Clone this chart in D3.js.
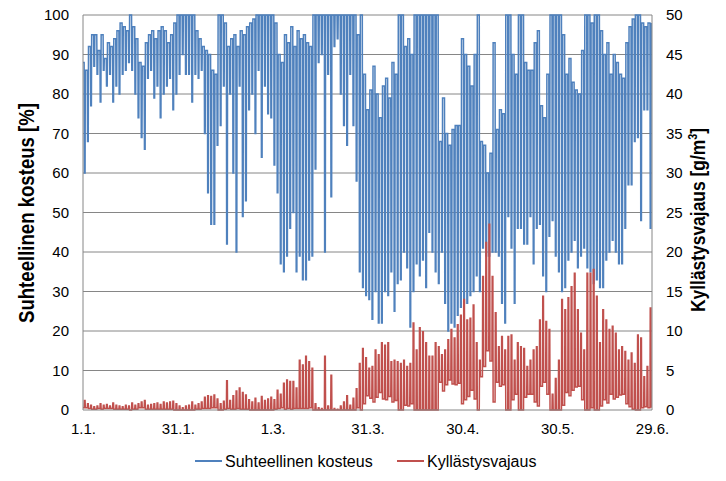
<!DOCTYPE html>
<html>
<head>
<meta charset="utf-8">
<script src="https://cdn.jsdelivr.net/npm/d3@7"></script>
<style>
  body { margin: 0; background: #fff; }
  svg text { font-family: "Liberation Sans", Arial, sans-serif; fill: #000; }
</style>
</head>
<body>
<svg id="chart" width="726" height="481"></svg>
<script>
// daily top (night) and bottom (afternoon) relative humidity, % ; day 0 = 1.1.
let rhTop = [
  88, 86, 92, 95, 95, 91, 95, 89, 93, 92,
  94, 96, 98, 97, 96, 100, 97, 94, 88, 87,
  93, 95, 96, 94, 96, 97, 96, 93, 95, 98,
  100, 100, 100, 100, 100, 100, 96, 94, 92, 91,
  90, 86, 85, 100, 100, 98, 92, 94, 95, 92,
  96, 95, 97, 98, 99, 100, 100, 100, 100, 100,
  100, 98, 90, 88, 95, 93, 97, 92, 96, 94,
  95, 93, 92, 100, 100, 100, 100, 100, 100, 100,
  100, 100, 100, 100, 100, 100, 100, 95, 100, 85,
  76, 81, 87, 80, 74, 82, 84, 79, 88, 85,
  100, 100, 92, 94, 90, 100, 100, 100, 100, 100,
  100, 100, 100, 68, 79, 70, 67, 71, 72, 72,
  94, 90, 87, 82, 90, 100, 68, 67, 60, 65,
  93, 71, 76, 75, 100, 100, 90, 85, 100, 100,
  88, 86, 86, 93, 96, 77, 74, 85, 100, 100,
  100, 100, 95, 85, 89, 83, 81, 80, 91, 100,
  100, 98, 100, 100, 96, 90, 93, 85, 90, 88,
  85, 84, 93, 97, 99, 100, 100, 98, 97, 98
];
let rhLow = [
  60, 68, 77, 87, 85, 78, 86, 82, 85, 78,
  82, 80, 85, 86, 88, 86, 80, 74, 69, 66,
  84, 86, 79, 82, 74, 80, 82, 84, 76, 80,
  85, 90, 85, 85, 78, 85, 84, 86, 70, 55,
  47, 47, 67, 72, 82, 42, 80, 60, 40, 82,
  49, 53, 76, 80, 70, 86, 64, 82, 75, 74,
  62, 55, 37, 35, 39, 46, 50, 35, 39, 33,
  33, 38, 39, 61, 88, 90, 40, 85, 54, 92,
  94, 80, 72, 67, 85, 72, 58, 35, 31, 29,
  28, 23, 30, 22, 22, 30, 29, 35, 25, 32,
  33, 40, 36, 21, 30, 37, 34, 38, 31, 45,
  40, 35, 32, 40, 27, 20, 22, 21, 24, 26,
  27, 27, 29, 30, 34, 30, 41, 39, 39, 40,
  40, 39, 27, 22, 49, 41, 27, 46, 46, 42,
  42, 49, 37, 46, 47, 34, 30, 44, 48, 39,
  35, 30, 31, 38, 40, 43, 36, 39, 41, 36,
  35, 32, 33, 31, 31, 38, 40, 43, 40, 37,
  37, 46, 57, 57, 68, 69, 48, 76, 76, 46
];
// daily peak and night level of saturation deficit, g/m3
let defPeak = [
  1.2, 0.8, 0.6, 0.4, 0.5, 0.8, 0.6, 0.7, 0.5, 0.9,
  0.6, 0.5, 0.4, 0.6, 0.5, 0.9, 0.6, 0.8, 1.0, 1.2,
  0.6, 0.7, 0.8, 0.9, 0.7, 1.0, 0.9, 1.0, 1.1, 0.8,
  0.5, 0.3, 0.5, 0.6, 1.0, 0.6, 0.8, 1.0, 1.6, 1.8,
  1.7, 1.9, 1.4, 0.8, 1.1, 3.7, 1.2, 1.8, 2.4, 2.8,
  2.2, 1.9, 1.3, 1.0, 1.5, 0.9, 1.7, 1.2, 1.4, 1.6,
  1.3, 2.5, 2.0, 3.4, 3.8, 3.6, 3.6, 2.8, 6.3, 5.7,
  6.8, 6.1, 5.3, 0.8, 0.3, 0.2, 6.8, 0.5, 4.4, 0.2,
  0.1, 0.5, 1.0, 1.8, 0.6, 1.5, 2.7, 5.9, 7.8, 6.6,
  5.3, 5.5, 7.6, 7.0, 8.5, 8.2, 8.5, 6.1, 6.3, 6.1,
  5.9, 6.3, 5.5, 5.9, 11.0, 7.6, 10.4, 9.9, 8.5, 6.8,
  6.8, 8.5, 8.0, 7.0, 7.6, 8.9, 10.2, 9.1, 10.8, 12.0,
  14.0, 11.4, 11.6, 13.3, 8.5, 6.3, 16.9, 21.2, 23.5, 16.9,
  12.3, 8.0, 9.3, 7.6, 9.3, 9.5, 6.3, 8.5, 8.0, 7.8,
  5.5, 6.3, 7.6, 8.0, 11.4, 14.4, 11.2, 10.2, 2.0, 4.0,
  6.3, 14.0, 12.7, 14.2, 15.6, 17.3, 12.7, 9.7, 7.6, 17.3,
  17.3, 17.8, 14.4, 8.5, 12.7, 11.4, 10.2, 10.6, 9.7, 7.6,
  8.0, 7.4, 6.3, 7.2, 5.9, 9.5, 9.1, 4.2, 5.5, 12.9
];
let defNight = [
  0.3, 0.3, 0.2, 0.1, 0.1, 0.2, 0.1, 0.2, 0.2, 0.2,
  0.1, 0.1, 0.1, 0.1, 0.1, 0.0, 0.1, 0.1, 0.3, 0.3,
  0.1, 0.1, 0.1, 0.1, 0.1, 0.1, 0.1, 0.1, 0.1, 0.0,
  0.0, 0.0, 0.0, 0.0, 0.0, 0.0, 0.1, 0.1, 0.2, 0.2,
  0.2, 0.3, 0.3, 0.0, 0.0, 0.1, 0.2, 0.1, 0.1, 0.2,
  0.1, 0.1, 0.1, 0.0, 0.0, 0.0, 0.0, 0.0, 0.0, 0.0,
  0.0, 0.1, 0.2, 0.3, 0.1, 0.2, 0.1, 0.2, 0.2, 0.2,
  0.2, 0.2, 0.3, 0.0, 0.0, 0.0, 0.0, 0.0, 0.0, 0.0,
  0.0, 0.0, 0.0, 0.0, 0.0, 0.0, 0.0, 0.3, 0.0, 0.8,
  1.8, 1.5, 1.0, 1.6, 2.2, 1.4, 1.3, 1.7, 1.0, 1.2,
  0.0, 0.0, 0.6, 0.5, 0.8, 0.0, 0.0, 0.0, 0.0, 0.0,
  0.0, 0.0, 0.0, 3.5, 2.4, 3.2, 3.8, 3.3, 3.2, 3.4,
  0.8, 1.3, 1.7, 2.5, 1.4, 0.0, 4.2, 5.5, 7.5, 6.2,
  1.0, 3.5, 3.0, 3.2, 0.0, 0.0, 1.3, 2.0, 0.0, 0.0,
  1.6, 2.0, 2.0, 1.0, 0.5, 3.0, 3.5, 2.0, 0.0, 0.0,
  0.0, 0.0, 0.6, 2.2, 1.8, 2.5, 2.9, 3.0, 1.3, 0.0,
  0.0, 0.3, 0.0, 0.0, 0.5, 1.3, 0.9, 2.0, 1.4, 1.6,
  1.9, 2.0, 0.8, 0.4, 0.1, 0.0, 0.0, 0.3, 0.4, 0.3
];
let dayTicks = [0, 30, 60, 90, 120, 150, 180];
let dayLabels = ["1.1.", "31.1.", "1.3.", "31.3.", "30.4.", "30.5.", "29.6."];
let seriesNames = ["Suhteellinen kosteus", "Kyllästysvajaus"];
let seriesColors = ["#4F81BD", "#C0504D"];

let svg = d3.select("#chart");
let plotL = 83, plotR = 652, plotT = 15, plotB = 410;

let x = d3.scaleLinear().domain([0, 180]).range([plotL, plotR]);
let yL = d3.scaleLinear().domain([0, 100]).range([plotB, plotT]);
let yR = d3.scaleLinear().domain([0, 50]).range([plotB, plotT]);

// gridlines
svg.append("g")
  .selectAll("line")
  .data(d3.range(10, 101, 10))
  .join("line")
  .attr("x1", plotL).attr("x2", plotR)
  .attr("y1", d => yL(d)).attr("y2", d => yL(d))
  .attr("stroke", "#868686").attr("stroke-width", 1);

// each day: night plateau, quick dip/peak in the afternoon, back up
function dailyPath(hi, lo) {
  let pts = [];
  for (let i = 0; i < hi.length; i++) {
    let next = i + 1 < hi.length ? hi[i + 1] : hi[i];
    pts.push([i, hi[i]], [i + 0.36, hi[i]], [i + 0.44, lo[i]], [i + 0.66, lo[i]], [i + 0.74, next]);
  }
  return pts;
}

let lineL = d3.line().x(d => x(d[0])).y(d => yL(d[1]));
let lineR = d3.line().x(d => x(d[0])).y(d => yR(d[1]));

svg.append("path")
  .attr("d", lineL(dailyPath(rhTop, rhLow)))
  .attr("fill", "none")
  .attr("stroke", seriesColors[0])
  .attr("stroke-width", 1.5);

svg.append("path")
  .attr("d", lineR(dailyPath(defNight, defPeak)))
  .attr("fill", "none")
  .attr("stroke", seriesColors[1])
  .attr("stroke-width", 1.5);

// axis lines
svg.append("path")
  .attr("d", `M${plotL},${plotT}V${plotB}H${plotR}V${plotT}`)
  .attr("fill", "none").attr("stroke", "#868686").attr("stroke-width", 1);

let axL = svg.append("g")
  .attr("transform", `translate(${plotL},0)`)
  .call(d3.axisLeft(yL).tickValues(d3.range(0, 101, 10)).tickSize(0).tickPadding(14));
let axR = svg.append("g")
  .attr("transform", `translate(${plotR},0)`)
  .call(d3.axisRight(yR).tickValues(d3.range(0, 51, 5)).tickSize(0).tickPadding(14));
let axB = svg.append("g")
  .attr("transform", `translate(0,${plotB})`)
  .call(d3.axisBottom(x).tickValues(dayTicks).tickFormat((d, i) => dayLabels[i]).tickSize(0).tickPadding(13));

[axL, axR, axB].forEach(a => {
  a.select(".domain").remove();
  a.selectAll("text").style("font-size", "15px").attr("fill", "#000");
});

// axis titles (narrow, tall bold lettering like the original)
svg.append("text")
  .attr("transform", "translate(34,213) rotate(-90)")
  .attr("text-anchor", "middle")
  .attr("textLength", 220).attr("lengthAdjust", "spacingAndGlyphs")
  .style("font-size", "22px").style("font-weight", "bold")
  .text("Suhteellinen kosteus [%]");

let tR = svg.append("text")
  .attr("transform", "translate(705,220) rotate(-90)")
  .attr("text-anchor", "middle")
  .attr("textLength", 184).attr("lengthAdjust", "spacingAndGlyphs")
  .style("font-size", "21px").style("font-weight", "bold");
tR.append("tspan").text("Kyllästysvajaus [g/m");
tR.append("tspan").attr("dy", -8).style("font-size", "13px").text("3");
tR.append("tspan").attr("dy", 8).text("]");

// legend
let legX = [195, 397];
let leg = svg.append("g")
  .selectAll("g")
  .data(seriesNames)
  .join("g")
  .attr("transform", (d, i) => `translate(${legX[i]},461)`);
leg.append("line")
  .attr("x1", 0).attr("x2", 27)
  .attr("stroke", (d, i) => seriesColors[i]).attr("stroke-width", 2);
leg.append("text")
  .attr("x", 30).attr("dy", "0.35em")
  .style("font-size", "16px")
  .text(d => d);
</script>
</body>
</html>
